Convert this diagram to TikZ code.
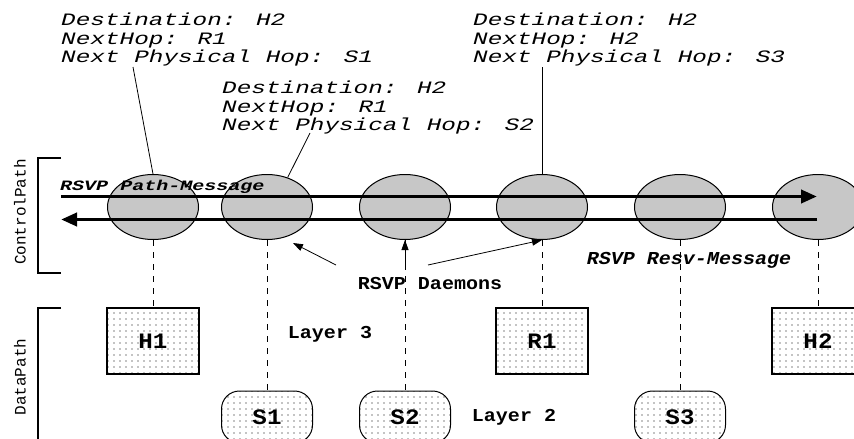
\documentclass[tikz,border=0pt]{standalone}
\usepackage{fontspec}
\usetikzlibrary{arrows.meta,patterns.meta,shapes.geometric}
\newfontfamily\courwide[FakeStretch=1.4]{Liberation Mono}
\newfontfamily\courmid[FakeStretch=1.1]{Liberation Mono}
\newfontfamily\cour{Liberation Mono}

\begin{document}
\begin{tikzpicture}[x=1pt, y=-1pt,
    daemon/.style = {ellipse, draw, line width=1pt, fill=black!22,
                     minimum width=91pt, minimum height=65pt, inner sep=0pt},
    hostbox/.style = {rectangle, draw, line width=1.2pt,
                      pattern={Dots[distance=6pt, radius=0.65pt]}, pattern color=black,
                      minimum width=92pt, minimum height=66pt,
                      font={\courmid\bfseries\fontsize{22}{22}\selectfont}},
    switchbox/.style = {hostbox, rounded corners=18pt, line width=1pt,
                        minimum width=91pt, minimum height=52pt},
    annot/.style = {align=left, anchor=north west, inner sep=0pt,
                    font={\courwide\itshape\fontsize{17.4}{18.5}\selectfont}},
    lbl/.style = {inner sep=0pt, font={\courmid\bfseries\fontsize{18.2}{18.2}\selectfont}},
    side/.style = {rotate=90, inner sep=0pt, font={\cour\fontsize{16}{16}\selectfont}},
    msg/.style = {line width=3.8pt, -{Triangle[length=16pt, width=13pt]}},
    pointer/.style = {line width=0.8pt, -{Triangle[length=10pt, width=7pt]}},
    vline/.style = {line width=0.8pt, dash pattern=on 6pt off 6pt},
    bracket/.style = {line width=2.5pt}]
    \useasboundingbox (0,0) rectangle (854,439);

    % control path: one daemon per hop
    \foreach \n/\x in {e1/153, e2/267, e3/405, e4/542, e5/680, e6/818}
        \node[daemon] (\n) at (\x,207) {};

    % data path
    \node[hostbox] (H1) at (153,341) {H1};
    \node[hostbox] (R1) at (542,341) {R1};
    \node[hostbox] (H2) at (818,341) {H2};
    \node[switchbox] (S1) at (267,417) {S1};
    \node[switchbox] (S2) at (405,417) {S2};
    \node[switchbox] (S3) at (680,417) {S3};

    \draw[vline] (e1.south) -- (H1.north);
    \draw[vline] (e2.south) -- (S1.north);
    \draw[vline] (e3.south) -- (S2.north);
    \draw[vline] (e4.south) -- (R1.north);
    \draw[vline] (e5.south) -- (S3.north);
    \draw[vline] (e6.south) -- (H2.north);

    % path and resv messages
    \coordinate (pathL) at (61,196.5);
    \coordinate (pathR) at (817,196.5);
    \coordinate (resvR) at (817,219.5);
    \coordinate (resvL) at (61,219.5);
    \draw[msg] (pathL) -- (pathR);
    \draw[msg] (resvR) -- (resvL);
    \node[anchor=west, inner sep=0pt,
          font={\courwide\bfseries\itshape\fontsize{14.3}{14.3}\selectfont}]
        (pathmsg) at (60,187) {RSVP Path-Message};
    \node[lbl, font={\courmid\bfseries\itshape\fontsize{18.2}{18.2}\selectfont}]
        (resvmsg) at (689,260) {RSVP Resv-Message};

    % brackets
    \draw[bracket] (61,158) -- (38,158) -- (38,273) -- (61,273);
    \draw[bracket] (61,308) -- (38,308) -- (38,445);
    \node[side] (ctrl) at (20,212) {ControlPath};
    \node[side] (data) at (20,377) {DataPath};

    % routing state
    \node[annot] (st1) at (61,13) {Destination: H2\\NextHop: R1\\Next Physical Hop: S1};
    \node[annot] (st2) at (222,81) {Destination: H2\\NextHop: R1\\Next Physical Hop: S2};
    \node[annot] (st3) at (473,13) {Destination: H2\\NextHop: H2\\Next Physical Hop: S3};
    \coordinate (st1p) at (133,67);
    \coordinate (st2p) at (310,133);
    \coordinate (st3p) at (542,67);
    \draw[line width=0.8pt] (st1p) -- (e1.north);
    \draw[line width=0.8pt] (st2p) -- (e2.55);
    \draw[line width=0.8pt] (st3p) -- (e4.north);

    % labels
    \node[lbl] (dmn) at (430,283) {RSVP Daemons};
    \node[lbl] (l3) at (330,334) {Layer 3};
    \node[lbl] (l2) at (514,417) {Layer 2};
    \coordinate (dmnA) at (336,265);
    \coordinate (dmnB) at (405,265);
    \coordinate (dmnC) at (428,265);
    \draw[pointer] (dmnA) -- ([xshift=26pt, yshift=-36pt]e2.center);
    \draw[pointer] (dmnB) -- (e3.south);
    \draw[pointer] (dmnC) -- (e4.south);
\end{tikzpicture}
\end{document}
